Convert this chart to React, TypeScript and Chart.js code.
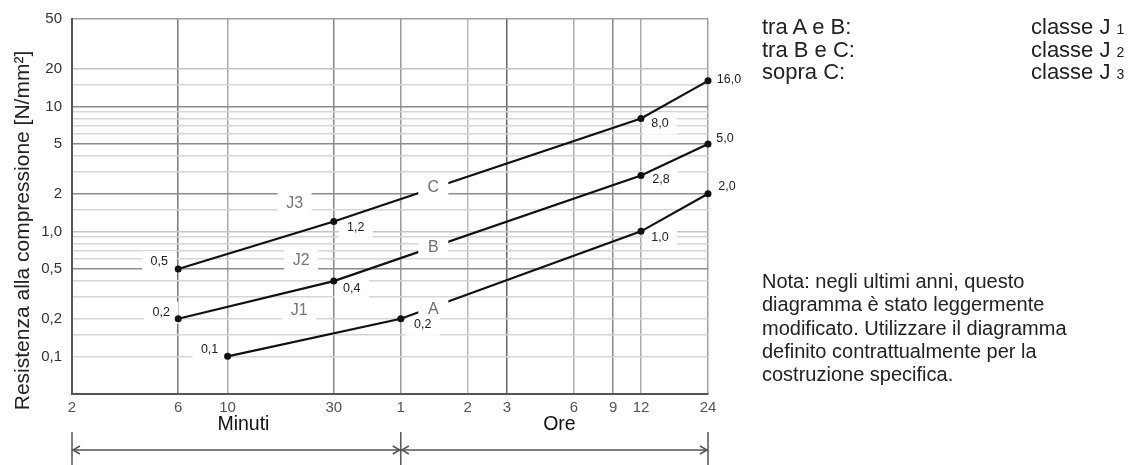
import React, { useEffect, useRef } from 'react';
import { Chart, registerables } from 'chart.js';

Chart.register(...registerables);

// ---- axis ticks (x in minutes) ----
const X_TICKS = [2, 6, 10, 30, 60, 120, 180, 360, 540, 720, 1440];
const X_TICK_LABELS = ['2', '6', '10', '30', '1', '2', '3', '6', '9', '12', '24'];
const Y_GRID = [0.1, 0.15, 0.2, 0.3, 0.4, 0.5, 0.6, 0.7, 0.8, 0.9, 1, 1.5, 2, 3, 4, 5, 6, 7, 8, 9, 10, 15, 20, 50];
const Y_TICK_VALUES = [0.1, 0.2, 0.5, 1, 2, 5, 10, 20, 50];
const Y_TICK_LABELS = ['0,1', '0,2', '0,5', '1,0', '2', '5', '10', '20', '50'];

// ---- series ----
const A_X = [10, 60, 720, 1440];
const A_Y = [0.1, 0.2, 1.0, 2.0];
const A_LABELS = ['0,1', '0,2', '1,0', '2,0'];

const B_X = [6, 30, 720, 1440];
const B_Y = [0.2, 0.4, 2.8, 5.0];
const B_LABELS = ['0,2', '0,4', '2,8', '5,0'];

const C_X = [6, 30, 720, 1440];
const C_Y = [0.5, 1.2, 8.0, 16.0];
const C_LABELS = ['0,5', '1,2', '8,0', '16,0'];

// ---- curve names and class names (data coordinates) ----
const CURVE_NAMES = ['A', 'B', 'C'];
const CURVE_NAME_X = [84, 84, 84];
const CURVE_NAME_Y = [0.241, 0.75, 2.28];
const CLASS_NAMES = ['J1', 'J2', 'J3'];
const CLASS_X = [21, 21.4, 20];
const CLASS_Y = [0.237, 0.59, 1.7];

// ---- label offsets (pixels, text centre relative to point) ----
const A_OFFSETS = [[-18, -7], [22, 6], [19, 6], [19, -7]];
const B_OFFSETS = [[-17, -6], [18, 7], [20, 4], [17, -5]];
const C_OFFSETS = [[-19, -7], [22, 6], [19, 5], [21, -1]];

const FONT = '"Liberation Sans", Arial, Helvetica, sans-serif';
Chart.defaults.font.family = FONT;

function gridColorY(v: number): string {
  if (v === 10 || v === 5 || v === 2 || v === 0.5) return '#8c8c8c';
  if (v === 50) return '#a0a0a0';
  if (v === 20 || v === 1) return '#c4c4c4';
  return '#d6d6d6';
}
function gridColorX(v: number): string {
  const m: Record<number, string> = {
    2: 'rgba(0,0,0,0)', 6: '#777', 10: '#aaa', 30: '#888', 60: '#999',
    120: '#bbb', 180: '#666', 360: '#b0b0b0', 540: '#8a8a8a', 720: '#aaa', 1440: '#a0a0a0',
  };
  return m[v] || '#bbb';
}

const annotPlugin = {
  id: 'annot',
  beforeDatasetsDraw(chart: any) {
    const ctx = chart.ctx;
    const xs = chart.scales.x;
    const ys = chart.scales.y;
    ctx.save();
    ctx.fillStyle = '#ffffff';
    // white boxes behind value labels (interrupt grid lines)
    const groups: [number[], number[], number[][]][] = [
      [A_X, A_Y, A_OFFSETS], [B_X, B_Y, B_OFFSETS], [C_X, C_Y, C_OFFSETS],
    ];
    groups.forEach(([gx, gy, off]) => {
      gx.forEach((xv, i) => {
        if (i === gx.length - 1) return;
        const px = xs.getPixelForValue(xv) + off[i][0];
        const py = ys.getPixelForValue(gy[i]) + off[i][1];
        ctx.fillRect(px - 17, py - 11, 34, 22);
      });
    });
    // boxes behind class labels
    CLASS_NAMES.forEach((n, i) => {
      const px = xs.getPixelForValue(CLASS_X[i]);
      const py = ys.getPixelForValue(CLASS_Y[i]);
      ctx.fillRect(px - 17, py - 11, 34, 22);
    });
    ctx.restore();
  },
  afterDatasetsDraw(chart: any) {
    const ctx = chart.ctx;
    const xs = chart.scales.x;
    const ys = chart.scales.y;
    ctx.save();
    // curve names break the lines
    CURVE_NAMES.forEach((n, i) => {
      const px = xs.getPixelForValue(CURVE_NAME_X[i]);
      const py = ys.getPixelForValue(CURVE_NAME_Y[i]);
      ctx.fillStyle = '#ffffff';
      ctx.fillRect(px - 15, py - 9, 30, 18);
      ctx.fillStyle = '#6e6e6e';
      ctx.font = `16px ${FONT}`;
      ctx.textAlign = 'center';
      ctx.textBaseline = 'middle';
      ctx.fillText(n, px, py + 1);
    });
    CLASS_NAMES.forEach((n, i) => {
      const px = xs.getPixelForValue(CLASS_X[i]);
      const py = ys.getPixelForValue(CLASS_Y[i]);
      ctx.fillStyle = '#777';
      ctx.font = `16px ${FONT}`;
      ctx.textAlign = 'center';
      ctx.textBaseline = 'middle';
      ctx.fillText(n, px, py + 1);
    });
    const groups: [number[], number[], string[], number[][]][] = [
      [A_X, A_Y, A_LABELS, A_OFFSETS], [B_X, B_Y, B_LABELS, B_OFFSETS], [C_X, C_Y, C_LABELS, C_OFFSETS],
    ];
    ctx.fillStyle = '#222';
    ctx.font = `12.5px ${FONT}`;
    ctx.textAlign = 'center';
    ctx.textBaseline = 'middle';
    groups.forEach(([gx, gy, lab, off]) => {
      gx.forEach((xv, i) => {
        const px = xs.getPixelForValue(xv) + off[i][0];
        const py = ys.getPixelForValue(gy[i]) + off[i][1];
        ctx.fillText(lab[i], px, py);
      });
    });
    ctx.restore();
  },
  afterDraw(chart: any) {
    const ctx = chart.ctx;
    const xs = chart.scales.x;
    const area = chart.chartArea;
    ctx.save();
    // y title
    ctx.translate(23, (area.top + area.bottom) / 2 + 24);
    ctx.rotate(-Math.PI / 2);
    ctx.fillStyle = '#222';
    ctx.font = `21px ${FONT}`;
    ctx.textAlign = 'center';
    ctx.textBaseline = 'middle';
    ctx.fillText('Resistenza alla compressione [N/mm²]', 0, 0);
    ctx.restore();

    // range arrows below the x axis
    ctx.save();
    const x0 = xs.getPixelForValue(2);
    const x1 = xs.getPixelForValue(60);
    const x2 = xs.getPixelForValue(1440);
    ctx.strokeStyle = '#555';
    ctx.lineWidth = 1.5;
    [x0, x1, x2].forEach((x) => {
      ctx.beginPath();
      ctx.moveTo(x, 432);
      ctx.lineTo(x, 465);
      ctx.stroke();
    });
    const ay = 450;
    ctx.beginPath();
    ctx.moveTo(x0, ay);
    ctx.lineTo(x2, ay);
    ctx.stroke();
    const head = (x: number, dir: number) => {
      ctx.beginPath();
      ctx.moveTo(x + dir * 7, ay - 4);
      ctx.lineTo(x, ay);
      ctx.lineTo(x + dir * 7, ay + 4);
      ctx.stroke();
    };
    head(x0 + 1, 1);
    head(x1 - 1, -1);
    head(x1 + 1, 1);
    head(x2 - 1, -1);
    ctx.fillStyle = '#111';
    ctx.font = `19.5px ${FONT}`;
    ctx.textAlign = 'center';
    ctx.textBaseline = 'middle';
    ctx.fillText('Minuti', (x0 + x1) / 2 + 7, 425);
    ctx.fillText('Ore', (x1 + x2) / 2 + 5, 425);
    ctx.restore();
  },
};

export default function App() {
  const ref = useRef<HTMLCanvasElement>(null);

  useEffect(() => {
    if (!ref.current) return;
    const mk = (xsArr: number[], ysArr: number[]) => xsArr.map((x, i) => ({ x, y: ysArr[i] }));
    const ds = (data: any[]) => ({
      data,
      showLine: true,
      borderColor: '#111',
      borderWidth: 2.2,
      pointRadius: 3.5,
      pointBackgroundColor: '#111',
      pointBorderColor: '#111',
      pointBorderWidth: 0,
      clip: false as any,
    });
    const chart = new Chart(ref.current, {
      type: 'scatter',
      data: {
        datasets: [ds(mk(A_X, A_Y)), ds(mk(B_X, B_Y)), ds(mk(C_X, C_Y))],
      },
      options: {
        responsive: false,
        animation: false,
        layout: { padding: { left: 0, top: 16, right: 427, bottom: 41 } },
        plugins: {
          legend: { display: false },
          tooltip: { enabled: false },
          title: { display: false },
        },
        scales: {
          x: {
            type: 'logarithmic',
            min: 2,
            max: 1440,
            afterBuildTicks: (s: any) => {
              s.ticks = X_TICKS.map((v) => ({ value: v }));
            },
            afterFit: (s: any) => {
              s.height = 30;
            },
            ticks: {
              autoSkip: false,
              maxRotation: 0,
              minRotation: 0,
              padding: 5,
              color: '#555',
              font: { size: 15 },
              callback: (v: any, i: number) => X_TICK_LABELS[i],
            },
            grid: {
              drawTicks: false,
              color: (c: any) => gridColorX(c.tick ? c.tick.value : 0),
              lineWidth: 1.5,
            },
            border: { color: '#555', width: 2 },
          },
          y: {
            type: 'logarithmic',
            min: 0.05,
            max: 50,
            afterBuildTicks: (s: any) => {
              s.ticks = Y_GRID.map((v) => ({ value: v }));
            },
            afterFit: (s: any) => {
              s.width = 72;
            },
            ticks: {
              autoSkip: false,
              padding: 10,
              color: '#333',
              font: { size: 15 },
              callback: (v: any) => {
                const k = Y_TICK_VALUES.indexOf(Number(v));
                return k >= 0 ? Y_TICK_LABELS[k] : '';
              },
            },
            grid: {
              drawTicks: false,
              color: (c: any) => gridColorY(c.tick ? c.tick.value : 0),
              lineWidth: 1.5,
            },
            border: { color: '#555', width: 2 },
          },
        },
      },
      plugins: [annotPlugin],
    });
    return () => chart.destroy();
  }, []);

  const legendRows = [
    ['tra A e B:', '1'],
    ['tra B e C:', '2'],
    ['sopra C:', '3'],
  ];
  const noteLines = [
    'Nota: negli ultimi anni, questo',
    'diagramma è stato leggermente',
    'modificato. Utilizzare il diagramma',
    'definito contrattualmente per la',
    'costruzione specifica.',
  ];

  return (
    <div style={{ position: 'absolute', left: 0, top: 0, width: 1135, height: 465, background: '#fff', overflow: 'hidden' }}>
      <canvas ref={ref} width={1135} height={465} style={{ position: 'absolute', left: 0, top: 0 }} />
      <div style={{ position: 'absolute', left: 762, top: 16, fontFamily: FONT, fontSize: 22, lineHeight: '22.7px', color: '#222', whiteSpace: 'nowrap' }}>
        {legendRows.map((r, i) => (
          <div key={i} style={{ position: 'relative', height: 22.7 }}>
            <span>{r[0]}</span>
            <span style={{ position: 'absolute', left: 269 }}>
              classe J <span style={{ fontSize: 14 }}>{r[1]}</span>
            </span>
          </div>
        ))}
      </div>
      <div style={{ position: 'absolute', left: 762, top: 270, fontFamily: FONT, fontSize: 20, lineHeight: '23.3px', color: '#222', whiteSpace: 'nowrap' }}>
        {noteLines.map((l, i) => (
          <div key={i}>{l}</div>
        ))}
      </div>
    </div>
  );
}
